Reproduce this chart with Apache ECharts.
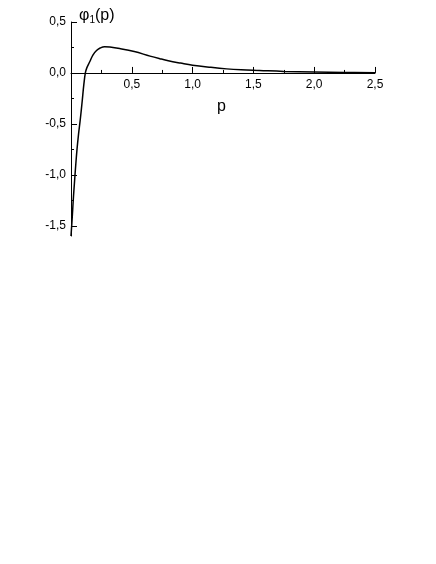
<!DOCTYPE html>
<html><head><meta charset="utf-8">
<script src="https://cdn.jsdelivr.net/npm/echarts@6/dist/echarts.min.js"></script>
<style>html,body{margin:0;padding:0;background:#fff}#c{width:436px;height:564px}</style>
</head><body><div id="c"></div>
<script>
const pValues = [0, 0.01, 0.02, 0.03, 0.036, 0.049, 0.062, 0.074, 0.085, 0.093, 0.105, 0.118, 0.13, 0.154, 0.18, 0.21, 0.24, 0.277, 0.32, 0.4, 0.52, 0.65, 0.73, 0.8, 0.9, 1.0, 1.15, 1.28, 1.4, 1.55, 1.75, 2.0, 2.25, 2.5];
const phiValues = [-1.6, -1.42, -1.22, -1.05, -0.95, -0.755, -0.6, -0.48, -0.36, -0.265, -0.12, 0.0, 0.05, 0.11, 0.176, 0.22, 0.245, 0.258, 0.255, 0.24, 0.21, 0.165, 0.14, 0.12, 0.097, 0.076, 0.055, 0.04, 0.031, 0.024, 0.015, 0.009, 0.005, 0.003];
const xTickLabels = ['', '0,5', '1,0', '1,5', '2,0', '2,5'];
const yMajorTicks = [-1.5, -1.0, -0.5, 0, 0.5];
const yMinorTicks = [-1.25, -0.75, -0.25, 0.25];
const yTickLabels = ['-1,5', '-1,0', '-0,5', '0,0', '0,5'];

const chart = echarts.init(document.getElementById('c'), null, {renderer: 'canvas'});
const font = 'Liberation Sans, Arial, sans-serif';
const data = pValues.map((p, i) => [p, phiValues[i]]);
const gridTop = 22, gridH = 214, yMin = -1.6, yMax = 0.5;
const zeroOffset = -gridH * (0 - yMin) / (yMax - yMin);
chart.setOption({
  animation: false,
  grid: {left: 71, top: gridTop, width: 304, height: gridH, containLabel: false},
  xAxis: {
    type: 'value', min: 0, max: 2.5, interval: 0.5, position: 'bottom', offset: zeroOffset,
    axisLine: {onZero: false, lineStyle: {color: '#000', width: 1}},
    axisTick: {inside: true, length: 6, lineStyle: {color: '#000'}},
    minorTick: {show: true, splitNumber: 2, length: 3, lineStyle: {color: '#000'}},
    splitLine: {show: false},
    axisLabel: {
      margin: 6, color: '#000', fontSize: 12, fontFamily: font,
      formatter: v => xTickLabels[Math.round(v / 0.5)]
    }
  },
  yAxis: [{
    type: 'value', min: yMin, max: yMax,
    axisLine: {show: true, lineStyle: {color: '#000', width: 1}},
    axisTick: {show: true, inside: true, length: 6, customValues: yMajorTicks, lineStyle: {color: '#000'}},
    splitLine: {show: false},
    axisLabel: {
      margin: 5, color: '#000', fontSize: 12, fontFamily: font,
      customValues: yMajorTicks,
      formatter: v => yTickLabels[yMajorTicks.findIndex(t => Math.abs(t - v) < 1e-6)]
    }
  }, {
    type: 'value', min: yMin, max: yMax, position: 'left',
    axisLine: {show: false},
    axisTick: {show: true, inside: true, length: 3, customValues: yMinorTicks, lineStyle: {color: '#000'}},
    axisLabel: {show: false},
    splitLine: {show: false}
  }],
  series: [{
    type: 'line', data: data, smooth: 0.4, showSymbol: false,
    lineStyle: {color: '#000', width: 1.5}, clip: true
  }],
  graphic: [
    {type: 'text', left: 79, top: 8, style: {
      text: '{a|φ}{s|1}{a|(p)}', fill: '#000',
      rich: {a: {fontSize: 16, fontFamily: font, fill: '#000'}, s: {fontSize: 10, fontFamily: font, fill: '#000', verticalAlign: 'bottom', padding: [9, 0, 0, 0]}}
    }},
    {type: 'text', left: 217, top: 99, style: {text: 'p', fontSize: 16, fontFamily: font, fill: '#000'}}
  ]
});
</script></body></html>
